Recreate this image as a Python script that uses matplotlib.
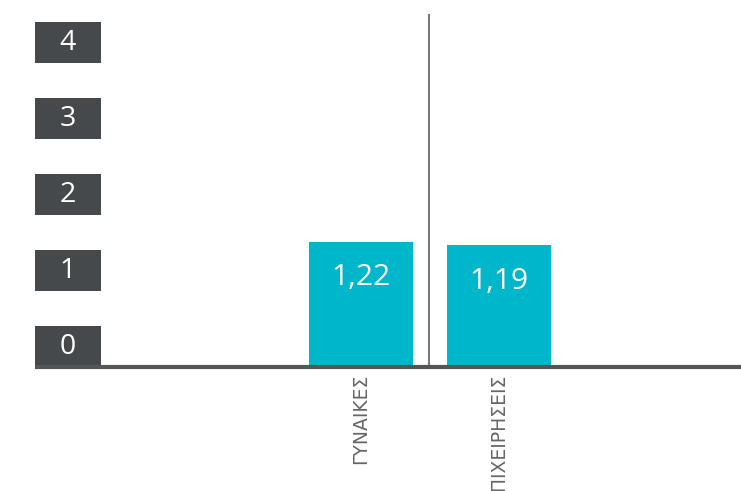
import matplotlib
matplotlib.use('Agg')
import matplotlib.pyplot as plt
from matplotlib.patches import Rectangle
from matplotlib.transforms import blended_transform_factory

categories = ['ΓΥΝΑΙΚΕΣ', 'ΕΠΙΧΕΙΡΗΣΕΙΣ']
values = [1.22, 1.19]
value_labels = ['1,22', '1,19']
ticks = [0, 1, 2, 3, 4]

W, H = 741, 491
fig = plt.figure(figsize=(W / 100, H / 100), dpi=100)
ax = fig.add_axes([35 / W, (H - 367) / H, 706 / W, (367 - 14) / H])

# scale for the tick boxes (76 px per unit)
ax.set_ylim(0, (367 - 14) / 76)
ax.set_xlim(-(361 - 35) / 137.5, 1 + (741 - 498.5) / 137.5)
for s in ax.spines.values():
    s.set_visible(False)
ax.set_yticks([])

tr = blended_transform_factory(ax.transAxes, ax.transData)
for t in ticks:
    ax.add_patch(Rectangle((0, t), 66 / 706, 41 / 76, transform=tr,
                           facecolor='#45494b', edgecolor='none', clip_on=False))
    ax.text(33 / 706, t + 19.5 / 76, str(t), transform=tr, ha='center', va='center',
            color='white', fontsize=20.5, family='Open Sans')

# bars on their own scale
ax2 = ax.twinx()
ax2.set_ylim(0, (367 - 14) / 102.5)
for s in ax2.spines.values():
    s.set_visible(False)
ax2.set_yticks([])
x = list(range(len(categories)))
ax2.bar(x, values, width=104 / 137.5, color='#00b6cb')
for xi, v, lab in zip(x, values, value_labels):
    ax2.text(xi, v - 36 / 102.5, lab, ha='center', va='center', color='white',
             fontsize=21.5, family='Open Sans')

ax2.axvline(0.495, color='#7a7a7a', lw=1.5)
ax2.axhline(0, color='#555555', lw=3, clip_on=False, solid_capstyle='butt')

ax.set_xticks(x)
ax.set_xticklabels(categories, rotation=90, va='top', ha='center', color='#666666',
                   fontsize=13.5, family=['Liberation Sans Narrow', 'DejaVu Sans'])
ax.tick_params(axis='x', length=0, pad=5)

fig.savefig('out.png', dpi=100)
